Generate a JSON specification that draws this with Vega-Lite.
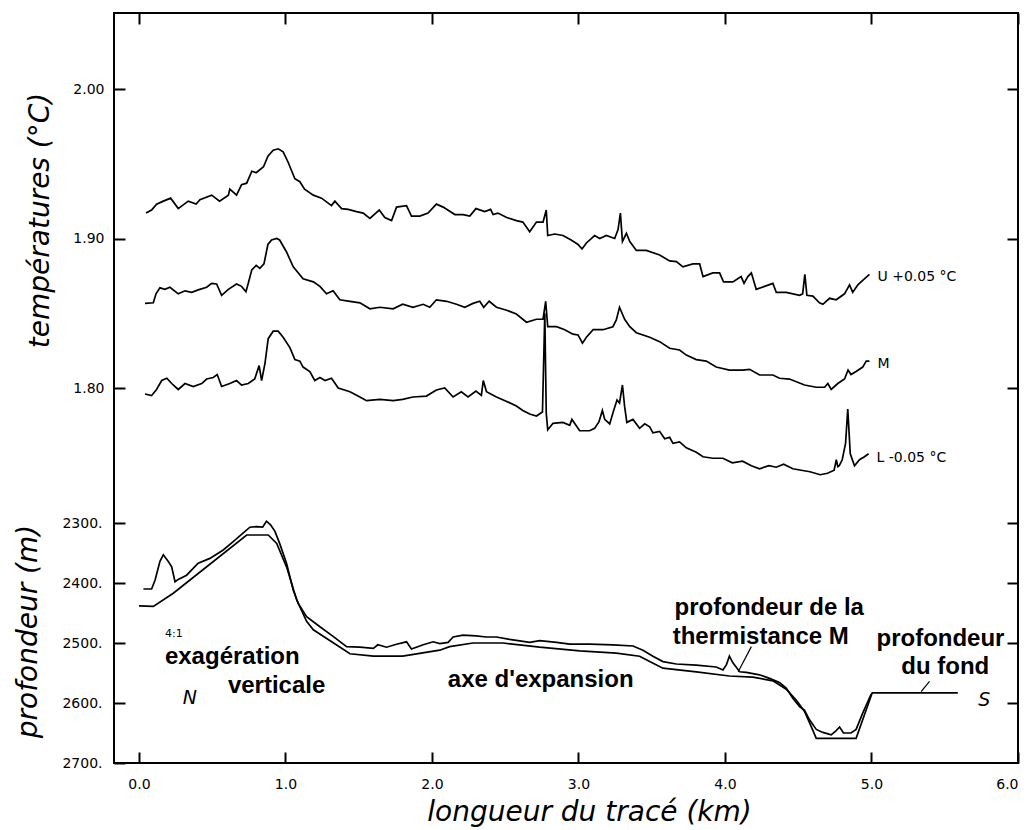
{
  "$schema": "https://vega.github.io/schema/vega-lite/v6.json",
  "width": 904,
  "height": 750,
  "autosize": "none",
  "padding": {"left": 114, "top": 13, "right": 10, "bottom": 67},
  "background": "white",
  "config": {
    "view": {"stroke": "black", "strokeWidth": 2},
    "axis": {
      "grid": false, "domain": false,
      "labelColor": "black", "labelFont": "DejaVu Sans", "labelFontSize": 14,
      "titleColor": "black", "titleFont": "DejaVu Sans", "titleFontStyle": "italic",
      "titleFontWeight": "normal", "titleFontSize": 28
    }
  },
  "datasets": {
    "temp": [
      {"s":"U","x":0.048,"t":1.917},{"s":"U","x":0.086,"t":1.919},{"s":"U","x":0.12,"t":1.923},{"s":"U","x":0.166,"t":1.925},{"s":"U","x":0.216,"t":1.927},{"s":"U","x":0.268,"t":1.920},{"s":"U","x":0.336,"t":1.925},{"s":"U","x":0.39,"t":1.923},{"s":"U","x":0.416,"t":1.926},{"s":"U","x":0.496,"t":1.929},{"s":"U","x":0.55,"t":1.925},{"s":"U","x":0.61,"t":1.929},{"s":"U","x":0.62,"t":1.933},{"s":"U","x":0.666,"t":1.929},{"s":"U","x":0.70,"t":1.936},{"s":"U","x":0.735,"t":1.937},{"s":"U","x":0.77,"t":1.945},{"s":"U","x":0.80,"t":1.944},{"s":"U","x":0.85,"t":1.948},{"s":"U","x":0.88,"t":1.955},{"s":"U","x":0.916,"t":1.959},{"s":"U","x":0.95,"t":1.960},{"s":"U","x":0.984,"t":1.958},{"s":"U","x":1.018,"t":1.951},{"s":"U","x":1.064,"t":1.940},{"s":"U","x":1.098,"t":1.938},{"s":"U","x":1.13,"t":1.933},{"s":"U","x":1.19,"t":1.929},{"s":"U","x":1.246,"t":1.927},{"s":"U","x":1.314,"t":1.922},{"s":"U","x":1.337,"t":1.925},{"s":"U","x":1.383,"t":1.920},{"s":"U","x":1.428,"t":1.9195},{"s":"U","x":1.485,"t":1.918},{"s":"U","x":1.53,"t":1.917},{"s":"U","x":1.576,"t":1.9135},{"s":"U","x":1.64,"t":1.919},{"s":"U","x":1.678,"t":1.914},{"s":"U","x":1.724,"t":1.912},{"s":"U","x":1.758,"t":1.921},{"s":"U","x":1.826,"t":1.922},{"s":"U","x":1.86,"t":1.915},{"s":"U","x":1.917,"t":1.915},{"s":"U","x":1.973,"t":1.917},{"s":"U","x":2.03,"t":1.923},{"s":"U","x":2.076,"t":1.921},{"s":"U","x":2.156,"t":1.916},{"s":"U","x":2.212,"t":1.916},{"s":"U","x":2.258,"t":1.915},{"s":"U","x":2.30,"t":1.920},{"s":"U","x":2.36,"t":1.918},{"s":"U","x":2.40,"t":1.9195},{"s":"U","x":2.417,"t":1.916},{"s":"U","x":2.45,"t":1.917},{"s":"U","x":2.51,"t":1.914},{"s":"U","x":2.576,"t":1.912},{"s":"U","x":2.62,"t":1.911},{"s":"U","x":2.667,"t":1.9045},{"s":"U","x":2.713,"t":1.911},{"s":"U","x":2.758,"t":1.911},{"s":"U","x":2.78,"t":1.919},{"s":"U","x":2.79,"t":1.902},{"s":"U","x":2.838,"t":1.903},{"s":"U","x":2.894,"t":1.902},{"s":"U","x":2.95,"t":1.899},{"s":"U","x":2.997,"t":1.896},{"s":"U","x":3.024,"t":1.893},{"s":"U","x":3.054,"t":1.897},{"s":"U","x":3.11,"t":1.902},{"s":"U","x":3.145,"t":1.900},{"s":"U","x":3.19,"t":1.902},{"s":"U","x":3.247,"t":1.900},{"s":"U","x":3.27,"t":1.906},{"s":"U","x":3.286,"t":1.917},{"s":"U","x":3.30,"t":1.898},{"s":"U","x":3.327,"t":1.9035},{"s":"U","x":3.35,"t":1.898},{"s":"U","x":3.395,"t":1.892},{"s":"U","x":3.463,"t":1.892},{"s":"U","x":3.554,"t":1.889},{"s":"U","x":3.622,"t":1.885},{"s":"U","x":3.668,"t":1.8845},{"s":"U","x":3.713,"t":1.881},{"s":"U","x":3.781,"t":1.883},{"s":"U","x":3.827,"t":1.883},{"s":"U","x":3.85,"t":1.8745},{"s":"U","x":3.917,"t":1.877},{"s":"U","x":3.963,"t":1.877},{"s":"U","x":3.99,"t":1.871},{"s":"U","x":4.054,"t":1.871},{"s":"U","x":4.11,"t":1.8745},{"s":"U","x":4.13,"t":1.870},{"s":"U","x":4.156,"t":1.8745},{"s":"U","x":4.18,"t":1.877},{"s":"U","x":4.213,"t":1.866},{"s":"U","x":4.27,"t":1.868},{"s":"U","x":4.327,"t":1.870},{"s":"U","x":4.35,"t":1.864},{"s":"U","x":4.418,"t":1.864},{"s":"U","x":4.509,"t":1.862},{"s":"U","x":4.53,"t":1.863},{"s":"U","x":4.545,"t":1.876},{"s":"U","x":4.559,"t":1.862},{"s":"U","x":4.60,"t":1.8615},{"s":"U","x":4.645,"t":1.857},{"s":"U","x":4.668,"t":1.856},{"s":"U","x":4.714,"t":1.860},{"s":"U","x":4.759,"t":1.859},{"s":"U","x":4.816,"t":1.863},{"s":"U","x":4.85,"t":1.869},{"s":"U","x":4.872,"t":1.864},{"s":"U","x":4.907,"t":1.869},{"s":"U","x":4.94,"t":1.872},{"s":"U","x":4.986,"t":1.876},
      {"s":"M","x":0.041,"t":1.8566},{"s":"M","x":0.098,"t":1.857},{"s":"M","x":0.116,"t":1.863},{"s":"M","x":0.143,"t":1.867},{"s":"M","x":0.177,"t":1.866},{"s":"M","x":0.211,"t":1.8674},{"s":"M","x":0.268,"t":1.863},{"s":"M","x":0.314,"t":1.865},{"s":"M","x":0.36,"t":1.864},{"s":"M","x":0.404,"t":1.8656},{"s":"M","x":0.462,"t":1.8674},{"s":"M","x":0.496,"t":1.870},{"s":"M","x":0.53,"t":1.8696},{"s":"M","x":0.564,"t":1.862},{"s":"M","x":0.61,"t":1.866},{"s":"M","x":0.666,"t":1.8696},{"s":"M","x":0.70,"t":1.868},{"s":"M","x":0.73,"t":1.8644},{"s":"M","x":0.746,"t":1.870},{"s":"M","x":0.77,"t":1.879},{"s":"M","x":0.80,"t":1.882},{"s":"M","x":0.825,"t":1.880},{"s":"M","x":0.853,"t":1.883},{"s":"M","x":0.88,"t":1.896},{"s":"M","x":0.905,"t":1.899},{"s":"M","x":0.94,"t":1.900},{"s":"M","x":0.96,"t":1.899},{"s":"M","x":1.007,"t":1.891},{"s":"M","x":1.053,"t":1.881},{"s":"M","x":1.12,"t":1.873},{"s":"M","x":1.19,"t":1.871},{"s":"M","x":1.235,"t":1.868},{"s":"M","x":1.28,"t":1.863},{"s":"M","x":1.325,"t":1.865},{"s":"M","x":1.371,"t":1.859},{"s":"M","x":1.44,"t":1.858},{"s":"M","x":1.508,"t":1.857},{"s":"M","x":1.576,"t":1.853},{"s":"M","x":1.644,"t":1.854},{"s":"M","x":1.735,"t":1.853},{"s":"M","x":1.80,"t":1.856},{"s":"M","x":1.87,"t":1.854},{"s":"M","x":1.94,"t":1.856},{"s":"M","x":1.985,"t":1.854},{"s":"M","x":2.03,"t":1.859},{"s":"M","x":2.10,"t":1.858},{"s":"M","x":2.167,"t":1.856},{"s":"M","x":2.224,"t":1.854},{"s":"M","x":2.28,"t":1.8566},{"s":"M","x":2.326,"t":1.858},{"s":"M","x":2.353,"t":1.854},{"s":"M","x":2.39,"t":1.858},{"s":"M","x":2.44,"t":1.854},{"s":"M","x":2.51,"t":1.852},{"s":"M","x":2.576,"t":1.8495},{"s":"M","x":2.645,"t":1.844},{"s":"M","x":2.713,"t":1.846},{"s":"M","x":2.758,"t":1.846},{"s":"M","x":2.776,"t":1.858},{"s":"M","x":2.79,"t":1.841},{"s":"M","x":2.85,"t":1.841},{"s":"M","x":2.906,"t":1.839},{"s":"M","x":2.962,"t":1.836},{"s":"M","x":2.997,"t":1.8355},{"s":"M","x":3.027,"t":1.830},{"s":"M","x":3.054,"t":1.834},{"s":"M","x":3.10,"t":1.839},{"s":"M","x":3.167,"t":1.839},{"s":"M","x":3.235,"t":1.841},{"s":"M","x":3.258,"t":1.8455},{"s":"M","x":3.28,"t":1.854},{"s":"M","x":3.315,"t":1.846},{"s":"M","x":3.35,"t":1.841},{"s":"M","x":3.395,"t":1.837},{"s":"M","x":3.486,"t":1.834},{"s":"M","x":3.554,"t":1.831},{"s":"M","x":3.622,"t":1.8266},{"s":"M","x":3.69,"t":1.8254},{"s":"M","x":3.736,"t":1.822},{"s":"M","x":3.804,"t":1.819},{"s":"M","x":3.872,"t":1.818},{"s":"M","x":3.94,"t":1.814},{"s":"M","x":4.03,"t":1.812},{"s":"M","x":4.12,"t":1.812},{"s":"M","x":4.168,"t":1.8125},{"s":"M","x":4.236,"t":1.8087},{"s":"M","x":4.327,"t":1.8087},{"s":"M","x":4.372,"t":1.8065},{"s":"M","x":4.44,"t":1.806},{"s":"M","x":4.543,"t":1.802},{"s":"M","x":4.623,"t":1.8005},{"s":"M","x":4.68,"t":1.8005},{"s":"M","x":4.702,"t":1.803},{"s":"M","x":4.725,"t":1.799},{"s":"M","x":4.77,"t":1.803},{"s":"M","x":4.816,"t":1.806},{"s":"M","x":4.84,"t":1.812},{"s":"M","x":4.86,"t":1.809},{"s":"M","x":4.895,"t":1.811},{"s":"M","x":4.94,"t":1.814},{"s":"M","x":4.964,"t":1.818},{"s":"M","x":4.986,"t":1.818},
      {"s":"L","x":0.041,"t":1.796},{"s":"L","x":0.086,"t":1.795},{"s":"L","x":0.12,"t":1.799},{"s":"L","x":0.155,"t":1.805},{"s":"L","x":0.19,"t":1.8065},{"s":"L","x":0.223,"t":1.803},{"s":"L","x":0.268,"t":1.799},{"s":"L","x":0.314,"t":1.803},{"s":"L","x":0.37,"t":1.801},{"s":"L","x":0.428,"t":1.803},{"s":"L","x":0.462,"t":1.806},{"s":"L","x":0.507,"t":1.807},{"s":"L","x":0.534,"t":1.809},{"s":"L","x":0.564,"t":1.801},{"s":"L","x":0.62,"t":1.803},{"s":"L","x":0.666,"t":1.805},{"s":"L","x":0.70,"t":1.802},{"s":"L","x":0.746,"t":1.803},{"s":"L","x":0.79,"t":1.806},{"s":"L","x":0.82,"t":1.815},{"s":"L","x":0.837,"t":1.805},{"s":"L","x":0.86,"t":1.8165},{"s":"L","x":0.882,"t":1.833},{"s":"L","x":0.916,"t":1.838},{"s":"L","x":0.95,"t":1.838},{"s":"L","x":0.984,"t":1.834},{"s":"L","x":1.03,"t":1.827},{"s":"L","x":1.064,"t":1.819},{"s":"L","x":1.098,"t":1.818},{"s":"L","x":1.12,"t":1.814},{"s":"L","x":1.166,"t":1.811},{"s":"L","x":1.2,"t":1.805},{"s":"L","x":1.235,"t":1.807},{"s":"L","x":1.27,"t":1.805},{"s":"L","x":1.314,"t":1.8065},{"s":"L","x":1.36,"t":1.800},{"s":"L","x":1.44,"t":1.7975},{"s":"L","x":1.508,"t":1.794},{"s":"L","x":1.553,"t":1.7915},{"s":"L","x":1.644,"t":1.7924},{"s":"L","x":1.735,"t":1.7915},{"s":"L","x":1.80,"t":1.7924},{"s":"L","x":1.87,"t":1.794},{"s":"L","x":1.962,"t":1.7946},{"s":"L","x":2.03,"t":1.7987},{"s":"L","x":2.087,"t":1.800},{"s":"L","x":2.144,"t":1.794},{"s":"L","x":2.2,"t":1.7975},{"s":"L","x":2.246,"t":1.794},{"s":"L","x":2.30,"t":1.798},{"s":"L","x":2.337,"t":1.795},{"s":"L","x":2.35,"t":1.805},{"s":"L","x":2.372,"t":1.7975},{"s":"L","x":2.44,"t":1.794},{"s":"L","x":2.51,"t":1.791},{"s":"L","x":2.576,"t":1.788},{"s":"L","x":2.62,"t":1.785},{"s":"L","x":2.667,"t":1.7826},{"s":"L","x":2.713,"t":1.7813},{"s":"L","x":2.754,"t":1.784},{"s":"L","x":2.77,"t":1.850},{"s":"L","x":2.78,"t":1.783},{"s":"L","x":2.79,"t":1.772},{"s":"L","x":2.826,"t":1.7764},{"s":"L","x":2.894,"t":1.777},{"s":"L","x":2.94,"t":1.775},{"s":"L","x":2.955,"t":1.779},{"s":"L","x":2.986,"t":1.7746},{"s":"L","x":3.008,"t":1.7714},{"s":"L","x":3.076,"t":1.7714},{"s":"L","x":3.11,"t":1.773},{"s":"L","x":3.14,"t":1.7775},{"s":"L","x":3.163,"t":1.785},{"s":"L","x":3.179,"t":1.779},{"s":"L","x":3.213,"t":1.776},{"s":"L","x":3.24,"t":1.785},{"s":"L","x":3.263,"t":1.792},{"s":"L","x":3.28,"t":1.790},{"s":"L","x":3.30,"t":1.802},{"s":"L","x":3.315,"t":1.7875},{"s":"L","x":3.33,"t":1.777},{"s":"L","x":3.372,"t":1.779},{"s":"L","x":3.417,"t":1.773},{"s":"L","x":3.452,"t":1.776},{"s":"L","x":3.486,"t":1.774},{"s":"L","x":3.508,"t":1.770},{"s":"L","x":3.554,"t":1.771},{"s":"L","x":3.588,"t":1.766},{"s":"L","x":3.622,"t":1.767},{"s":"L","x":3.645,"t":1.763},{"s":"L","x":3.69,"t":1.764},{"s":"L","x":3.736,"t":1.760},{"s":"L","x":3.804,"t":1.757},{"s":"L","x":3.85,"t":1.754},{"s":"L","x":3.917,"t":1.753},{"s":"L","x":3.986,"t":1.753},{"s":"L","x":4.05,"t":1.750},{"s":"L","x":4.12,"t":1.751},{"s":"L","x":4.18,"t":1.748},{"s":"L","x":4.236,"t":1.746},{"s":"L","x":4.30,"t":1.748},{"s":"L","x":4.35,"t":1.747},{"s":"L","x":4.40,"t":1.749},{"s":"L","x":4.463,"t":1.746},{"s":"L","x":4.52,"t":1.745},{"s":"L","x":4.58,"t":1.744},{"s":"L","x":4.65,"t":1.742},{"s":"L","x":4.70,"t":1.743},{"s":"L","x":4.745,"t":1.745},{"s":"L","x":4.76,"t":1.752},{"s":"L","x":4.77,"t":1.7474},{"s":"L","x":4.78,"t":1.748},{"s":"L","x":4.80,"t":1.752},{"s":"L","x":4.823,"t":1.763},{"s":"L","x":4.838,"t":1.786},{"s":"L","x":4.855,"t":1.756},{"s":"L","x":4.884,"t":1.748},{"s":"L","x":4.918,"t":1.752},{"s":"L","x":4.952,"t":1.754},{"s":"L","x":4.98,"t":1.756}
    ],
    "tlabels": [
      {"x": 5.041, "t": 1.8742, "label": "U +0.05 °C"},
      {"x": 5.041, "t": 1.816, "label": "M"},
      {"x": 5.034, "t": 1.7535, "label": "L  -0.05 °C"}
    ],
    "depth": [
      {"s":"thermistance","x":0.03,"d":2410},{"s":"thermistance","x":0.086,"d":2410},{"s":"thermistance","x":0.11,"d":2395},{"s":"thermistance","x":0.143,"d":2364},{"s":"thermistance","x":0.166,"d":2353},{"s":"thermistance","x":0.2,"d":2364},{"s":"thermistance","x":0.223,"d":2373},{"s":"thermistance","x":0.246,"d":2398},{"s":"thermistance","x":0.268,"d":2394},{"s":"thermistance","x":0.325,"d":2387},{"s":"thermistance","x":0.404,"d":2367},{"s":"thermistance","x":0.484,"d":2359},{"s":"thermistance","x":0.575,"d":2345},{"s":"thermistance","x":0.643,"d":2331},{"s":"thermistance","x":0.71,"d":2317},{"s":"thermistance","x":0.757,"d":2307},{"s":"thermistance","x":0.803,"d":2306},{"s":"thermistance","x":0.844,"d":2307},{"s":"thermistance","x":0.87,"d":2297},{"s":"thermistance","x":0.898,"d":2303},{"s":"thermistance","x":0.928,"d":2314},{"s":"thermistance","x":0.96,"d":2334},{"s":"thermistance","x":1.007,"d":2367},{"s":"thermistance","x":1.053,"d":2412},{"s":"thermistance","x":1.087,"d":2434},{"s":"thermistance","x":1.144,"d":2456},{"s":"thermistance","x":1.235,"d":2473},{"s":"thermistance","x":1.325,"d":2489},{"s":"thermistance","x":1.417,"d":2506},{"s":"thermistance","x":1.508,"d":2507},{"s":"thermistance","x":1.6,"d":2509},{"s":"thermistance","x":1.63,"d":2503},{"s":"thermistance","x":1.69,"d":2507},{"s":"thermistance","x":1.758,"d":2502},{"s":"thermistance","x":1.826,"d":2498},{"s":"thermistance","x":1.86,"d":2510},{"s":"thermistance","x":1.94,"d":2503},{"s":"thermistance","x":2.008,"d":2498},{"s":"thermistance","x":2.053,"d":2501},{"s":"thermistance","x":2.11,"d":2499},{"s":"thermistance","x":2.144,"d":2490},{"s":"thermistance","x":2.212,"d":2487},{"s":"thermistance","x":2.30,"d":2488},{"s":"thermistance","x":2.37,"d":2490},{"s":"thermistance","x":2.44,"d":2490},{"s":"thermistance","x":2.53,"d":2494},{"s":"thermistance","x":2.667,"d":2499},{"s":"thermistance","x":2.735,"d":2496},{"s":"thermistance","x":2.85,"d":2499},{"s":"thermistance","x":2.94,"d":2502},{"s":"thermistance","x":3.076,"d":2502},{"s":"thermistance","x":3.235,"d":2503},{"s":"thermistance","x":3.372,"d":2505},{"s":"thermistance","x":3.44,"d":2512},{"s":"thermistance","x":3.508,"d":2522},{"s":"thermistance","x":3.576,"d":2531},{"s":"thermistance","x":3.668,"d":2535},{"s":"thermistance","x":3.804,"d":2537},{"s":"thermistance","x":3.94,"d":2540},{"s":"thermistance","x":3.986,"d":2545},{"s":"thermistance","x":4.01,"d":2536},{"s":"thermistance","x":4.03,"d":2522},{"s":"thermistance","x":4.054,"d":2533},{"s":"thermistance","x":4.10,"d":2548},{"s":"thermistance","x":4.145,"d":2549},{"s":"thermistance","x":4.236,"d":2553},{"s":"thermistance","x":4.304,"d":2559},{"s":"thermistance","x":4.372,"d":2566},{"s":"thermistance","x":4.418,"d":2575},{"s":"thermistance","x":4.463,"d":2592},{"s":"thermistance","x":4.509,"d":2606},{"s":"thermistance","x":4.543,"d":2612},{"s":"thermistance","x":4.577,"d":2628},{"s":"thermistance","x":4.623,"d":2644},{"s":"thermistance","x":4.668,"d":2649},{"s":"thermistance","x":4.725,"d":2653},{"s":"thermistance","x":4.759,"d":2646},{"s":"thermistance","x":4.782,"d":2640},{"s":"thermistance","x":4.809,"d":2650},{"s":"thermistance","x":4.86,"d":2650},{"s":"thermistance","x":4.895,"d":2644},{"s":"thermistance","x":4.94,"d":2617},{"s":"thermistance","x":4.998,"d":2585},
      {"s":"fond","x":0.0,"d":2438},{"s":"fond","x":0.098,"d":2439},{"s":"fond","x":0.234,"d":2417},{"s":"fond","x":0.735,"d":2320},{"s":"fond","x":0.882,"d":2320},{"s":"fond","x":0.94,"d":2334},{"s":"fond","x":1.007,"d":2373},{"s":"fond","x":1.076,"d":2428},{"s":"fond","x":1.144,"d":2464},{"s":"fond","x":1.19,"d":2478},{"s":"fond","x":1.44,"d":2518},{"s":"fond","x":1.6,"d":2522},{"s":"fond","x":1.80,"d":2522},{"s":"fond","x":2.053,"d":2512},{"s":"fond","x":2.12,"d":2506},{"s":"fond","x":2.28,"d":2500},{"s":"fond","x":2.485,"d":2500},{"s":"fond","x":2.735,"d":2507},{"s":"fond","x":3.008,"d":2513},{"s":"fond","x":3.258,"d":2517},{"s":"fond","x":3.417,"d":2522},{"s":"fond","x":3.486,"d":2531},{"s":"fond","x":3.576,"d":2542},{"s":"fond","x":3.804,"d":2548},{"s":"fond","x":4.03,"d":2555},{"s":"fond","x":4.19,"d":2557},{"s":"fond","x":4.327,"d":2563},{"s":"fond","x":4.418,"d":2577},{"s":"fond","x":4.486,"d":2595},{"s":"fond","x":4.543,"d":2614},{"s":"fond","x":4.588,"d":2639},{"s":"fond","x":4.623,"d":2659},{"s":"fond","x":4.895,"d":2659},{"s":"fond","x":5.005,"d":2583},{"s":"fond","x":5.589,"d":2583}
    ],
    "boldlabels": [
      {"x": 0.177, "d": 2523, "label": "exagération"},
      {"x": 0.607, "d": 2572, "label": "verticale"},
      {"x": 2.108, "d": 2562, "label": "axe d'expansion"},
      {"x": 3.656, "d": 2442, "label": "profondeur de la"},
      {"x": 3.643, "d": 2490, "label": "thermistance M"},
      {"x": 5.034, "d": 2493, "label": "profondeur"},
      {"x": 5.203, "d": 2540, "label": "du fond"}
    ],
    "italiclabels": [
      {"x": 0.348, "d": 2592, "label": "N"},
      {"x": 5.77, "d": 2595, "label": "S"}
    ],
    "smalllabels": [
      {"x": 0.177, "d": 2485, "label": "4:1"}
    ],
    "leaders": [
      {"g": "a", "x": 4.18, "d": 2506}, {"g": "a", "x": 4.09, "d": 2548},
      {"g": "b", "x": 5.396, "d": 2564}, {"g": "b", "x": 5.339, "d": 2581}
    ]
  },
  "layer": [
    {
      "data": {"name": "temp"},
      "mark": {"type": "line", "strokeWidth": 1.7, "color": "black"},
      "encoding": {
        "x": {"field": "x", "type": "quantitative",
              "scale": {"domain": [-0.1706, 6.0], "nice": false, "zero": false},
              "axis": {"orient": "bottom", "values": [0,1,2,3,4,5,6], "format": ".1f",
                       "tickSize": -11, "tickWidth": 2, "tickColor": "black",
                       "title": "longueur du tracé (km)", "labelPadding": 25,
                       "titleX": 475, "titleY": 49, "titleBaseline": "middle", "titleAlign": "center"}},
        "y": {"field": "t", "type": "quantitative",
              "scale": {"domain": [1.8, 2.0], "range": [375, 76], "nice": false, "zero": false},
              "axis": {"orient": "left", "values": [1.8, 1.9, 2.0], "format": ".2f",
                       "tickSize": -11, "tickWidth": 2, "tickColor": "black",
                       "title": "températures (°C)", "labelPadding": 21,
                       "titleX": -74, "titleY": 207, "titleBaseline": "middle", "titleAlign": "center", "titleAngle": -90}},
        "detail": {"field": "s", "type": "nominal"}
      }
    },
    {
      "data": {"name": "tlabels"},
      "mark": {"type": "text", "align": "left", "baseline": "middle", "font": "DejaVu Sans", "fontSize": 14, "color": "black"},
      "encoding": {
        "x": {"field": "x", "type": "quantitative",
              "scale": {"domain": [-0.1706, 6.0], "nice": false, "zero": false},
              "axis": {"orient": "top", "values": [0,1,2,3,4,5,6], "labels": false, "title": null,
                       "tickSize": -11, "tickWidth": 2, "tickColor": "black"}},
        "y": {"field": "t", "type": "quantitative",
              "scale": {"domain": [1.8, 2.0], "range": [375, 76], "nice": false, "zero": false},
              "axis": {"orient": "right", "values": [1.8, 1.9, 2.0], "labels": false, "title": null,
                       "tickSize": -11, "tickWidth": 2, "tickColor": "black"}},
        "text": {"field": "label", "type": "nominal"}
      }
    },
    {
      "data": {"name": "depth"},
      "mark": {"type": "line", "strokeWidth": 1.7, "color": "black"},
      "encoding": {
        "x": {"field": "x", "type": "quantitative",
              "scale": {"domain": [-0.1706, 6.0], "nice": false, "zero": false}, "axis": null},
        "y": {"field": "d", "type": "quantitative",
              "scale": {"domain": [2300, 2700], "range": [510, 750], "nice": false, "zero": false},
              "axis": {"orient": "left", "values": [2300, 2400, 2500, 2600, 2700], "format": "d",
                       "tickSize": -11, "tickWidth": 2, "tickColor": "black",
                       "labelExpr": "datum.label + '.'",
                       "title": "profondeur (m)", "labelPadding": 23,
                       "titleX": -86, "titleY": 618, "titleBaseline": "middle", "titleAlign": "center", "titleAngle": -90}},
        "detail": {"field": "s", "type": "nominal"}
      }
    },
    {
      "data": {"name": "boldlabels"},
      "mark": {"type": "text", "align": "left", "baseline": "middle", "font": "Liberation Sans", "fontWeight": "bold", "fontSize": 24, "color": "black"},
      "encoding": {
        "x": {"field": "x", "type": "quantitative",
              "scale": {"domain": [-0.1706, 6.0], "nice": false, "zero": false}, "axis": null},
        "y": {"field": "d", "type": "quantitative",
              "scale": {"domain": [2300, 2700], "range": [510, 750], "nice": false, "zero": false},
              "axis": {"orient": "right", "values": [2300, 2400, 2500, 2600], "labels": false, "title": null,
                       "tickSize": -11, "tickWidth": 2, "tickColor": "black"}},
        "text": {"field": "label", "type": "nominal"}
      }
    },
    {
      "data": {"name": "italiclabels"},
      "mark": {"type": "text", "align": "center", "baseline": "middle", "font": "DejaVu Sans", "fontStyle": "italic", "fontSize": 19, "color": "black"},
      "encoding": {
        "x": {"field": "x", "type": "quantitative",
              "scale": {"domain": [-0.1706, 6.0], "nice": false, "zero": false}, "axis": null},
        "y": {"field": "d", "type": "quantitative",
              "scale": {"domain": [2300, 2700], "range": [510, 750], "nice": false, "zero": false}, "axis": null},
        "text": {"field": "label", "type": "nominal"}
      }
    },
    {
      "data": {"name": "smalllabels"},
      "mark": {"type": "text", "align": "left", "baseline": "middle", "font": "DejaVu Sans", "fontSize": 11, "color": "black"},
      "encoding": {
        "x": {"field": "x", "type": "quantitative",
              "scale": {"domain": [-0.1706, 6.0], "nice": false, "zero": false}, "axis": null},
        "y": {"field": "d", "type": "quantitative",
              "scale": {"domain": [2300, 2700], "range": [510, 750], "nice": false, "zero": false}, "axis": null},
        "text": {"field": "label", "type": "nominal"}
      }
    },
    {
      "data": {"name": "leaders"},
      "mark": {"type": "line", "strokeWidth": 1.2, "color": "black"},
      "encoding": {
        "x": {"field": "x", "type": "quantitative",
              "scale": {"domain": [-0.1706, 6.0], "nice": false, "zero": false}, "axis": null},
        "y": {"field": "d", "type": "quantitative",
              "scale": {"domain": [2300, 2700], "range": [510, 750], "nice": false, "zero": false}, "axis": null},
        "detail": {"field": "g", "type": "nominal"}
      }
    }
  ],
  "resolve": {"scale": {"y": "independent"}, "axis": {"x": "independent", "y": "independent"}}
}
